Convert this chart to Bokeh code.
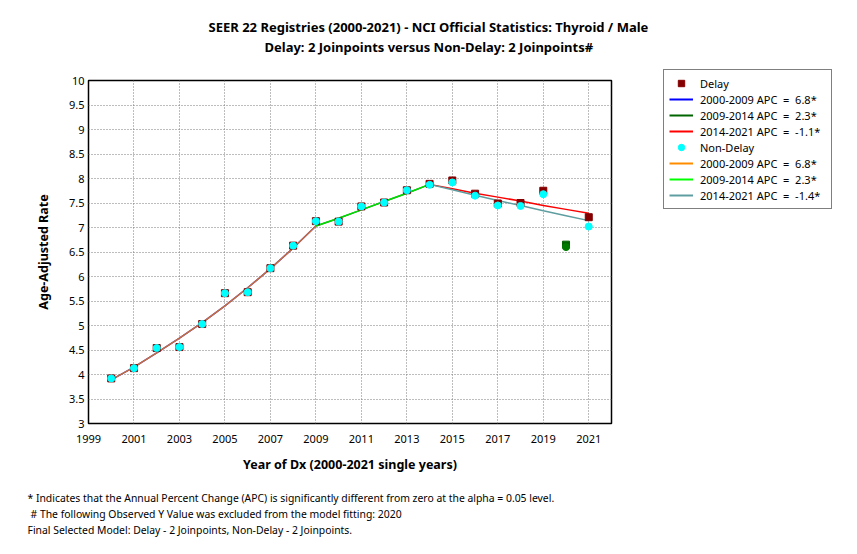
from bokeh.plotting import figure
from bokeh.layouts import row, column
from bokeh.models import Range1d, FixedTicker, Legend, LegendItem, Title
from bokeh.embed import file_html
from bokeh.resources import INLINE

# ---------------- data ----------------
years = list(range(2000, 2022))
delay_obs = [3.92, 4.13, 4.54, 4.56, 5.03, 5.66, 5.68, 6.17, 6.63, 7.13, 7.12,
             7.43, 7.51, 7.76, 7.89, 7.96, 7.69, 7.49, 7.50, 7.75, 6.65, 7.21]
nondelay_obs = [3.92, 4.13, 4.54, 4.56, 5.03, 5.66, 5.68, 6.17, 6.63, 7.13, 7.12,
                7.43, 7.51, 7.76, 7.87, 7.92, 7.65, 7.45, 7.44, 7.68, 6.60, 7.02]
excluded_years = [2020]
delay_fit = [3.89, 4.15, 4.44, 4.74, 5.06, 5.40, 5.77, 6.16, 6.58, 7.03, 7.19,
             7.36, 7.53, 7.70, 7.88, 7.79, 7.70, 7.62, 7.54, 7.45, 7.37, 7.29]
nondelay_fit = [3.89, 4.15, 4.44, 4.74, 5.06, 5.40, 5.77, 6.16, 6.58, 7.03, 7.19,
                7.36, 7.53, 7.70, 7.88, 7.77, 7.66, 7.55, 7.45, 7.34, 7.24, 7.14]
joinpoints = [2000, 2009, 2014, 2021]
delay_labels = ["2000-2009 APC  =  6.8*", "2009-2014 APC  =  2.3*", "2014-2021 APC  =  -1.1*"]
nondelay_labels = ["2000-2009 APC  =  6.8*", "2009-2014 APC  =  2.3*", "2014-2021 APC  =  -1.4*"]
delay_colors = ["#0000ff", "#006400", "#ff0000"]
nondelay_colors = ["#ff8c00", "#00ff00", "#5f9ea0"]
x_ticks = list(range(1999, 2022, 2))
y_ticks = [3, 3.5, 4, 4.5, 5, 5.5, 6, 6.5, 7, 7.5, 8, 8.5, 9, 9.5, 10]
y_tick_labels = ["3", "3.5", "4", "4.5", "5", "5.5", "6", "6.5", "7", "7.5",
                 "8", "8.5", "9", "9.5", "10"]
title_lines = ["SEER 22 Registries (2000-2021) - NCI Official Statistics: Thyroid / Male",
               "Delay: 2 Joinpoints  versus  Non-Delay: 2 Joinpoints#"]
footer_lines = ["* Indicates that the Annual Percent Change (APC) is significantly different from zero at the alpha = 0.05 level.",
                " # The following Observed Y Value was excluded from the model fitting: 2020",
                "Final Selected Model: Delay - 2 Joinpoints, Non-Delay - 2 Joinpoints."]

FONT = "Noto Sans"
DELAY_MARK = "#850000"
NONDELAY_MARK = "#00ffff"
EXCL_DELAY = "#006400"
EXCL_NONDELAY = "#007a00"

p = figure(width=655, height=538, output_backend="svg", toolbar_location=None,
           x_range=Range1d(1999, 2022), y_range=Range1d(3, 10),
           min_border_left=88, min_border_right=44, min_border_top=80,
           min_border_bottom=115, background_fill_color="white",
           border_fill_color="white")
p.outline_line_color = "black"
p.outline_line_width = 1.5

# grid
p.xgrid.ticker = FixedTicker(ticks=x_ticks)
p.ygrid.ticker = FixedTicker(ticks=y_ticks)
for g in (p.xgrid, p.ygrid):
    g.grid_line_color = "#7a7a7a"
    g.grid_line_dash = "1 2"
    g.grid_line_width = 1

# axes
p.xaxis.ticker = FixedTicker(ticks=x_ticks)
p.yaxis.ticker = FixedTicker(ticks=y_ticks)
p.yaxis.major_label_overrides = {t: l for t, l in zip(y_ticks, y_tick_labels)}
for ax in (p.xaxis, p.yaxis):
    ax.axis_line_color = None
    ax.major_tick_line_color = None
    ax.minor_tick_line_color = None
    ax.major_tick_out = 0
    ax.major_tick_in = 0
    ax.minor_tick_out = 0
    ax.major_label_text_font = FONT
    ax.major_label_text_font_size = "11px"
    ax.major_label_text_color = "black"
    ax.axis_label_text_font = FONT
    ax.axis_label_text_font_style = "bold"
    ax.axis_label_text_font_size = "12.5px"
    ax.axis_label_text_color = "black"
p.xaxis.axis_label = "Year of Dx (2000-2021 single years)"
p.yaxis.axis_label = "Age-Adjusted Rate"
p.xaxis.major_label_standoff = 11
p.yaxis.major_label_standoff = 4
p.xaxis.axis_label_standoff = 10
p.yaxis.axis_label_standoff = 14

# fitted lines
def seg(vals, a, b):
    i0, i1 = years.index(a), years.index(b)
    return years[i0:i1 + 1], vals[i0:i1 + 1]

for k in range(3):
    xs, ys = seg(delay_fit, joinpoints[k], joinpoints[k + 1])
    p.line(xs, ys, line_color=delay_colors[k], line_width=1.5)
for k in range(3):
    xs, ys = seg(nondelay_fit, joinpoints[k], joinpoints[k + 1])
    p.line(xs, ys, line_color=nondelay_colors[k], line_width=1.5,
           line_alpha=0.78 if k < 2 else 1.0)

# observed points
inc = [i for i, y in enumerate(years) if y not in excluded_years]
exc = [i for i, y in enumerate(years) if y in excluded_years]
p.scatter([years[i] for i in inc], [delay_obs[i] for i in inc], marker="square",
          size=7, fill_color=DELAY_MARK, line_color=DELAY_MARK)
p.scatter([years[i] for i in exc], [delay_obs[i] for i in exc], marker="square",
          size=7, fill_color=EXCL_DELAY, line_color=EXCL_DELAY)
p.scatter([years[i] for i in inc], [nondelay_obs[i] for i in inc], marker="circle",
          size=7, fill_color=NONDELAY_MARK, line_color=NONDELAY_MARK)
p.scatter([years[i] for i in exc], [nondelay_obs[i] for i in exc], marker="circle",
          size=7, fill_color=EXCL_NONDELAY, line_color=EXCL_NONDELAY)

# titles (spacer first, then lines stacked upward)
p.add_layout(Title(text=" ", text_font=FONT, text_font_size="12px", standoff=6), "above")
p.add_layout(Title(text=title_lines[1], align="left", offset=176,
                   text_font=FONT, text_font_style="bold",
                   text_font_size="13px", text_color="black", standoff=0), "above")
p.add_layout(Title(text=title_lines[0], align="left", offset=120,
                   text_font=FONT, text_font_style="bold",
                   text_font_size="13px", text_color="black", standoff=0), "above")

# footer
p.add_layout(Title(text=" ", text_font=FONT, text_font_size="6px", standoff=3), "below")
for i, line in enumerate(footer_lines):
    p.add_layout(Title(text=line, align="left", offset=-58 if i == 1 else -61,
                       text_font=FONT, text_font_style="normal",
                       text_font_size="10.4px", text_color="black", standoff=0), "below")

# ---------------- legend panel ----------------
lg = figure(width=186, height=538, output_backend="svg", toolbar_location=None,
            x_range=Range1d(1999, 2022), y_range=Range1d(3, 10),
            x_axis_location=None, y_axis_location=None,
            min_border=0, min_border_left=0, min_border_right=0,
            min_border_top=0, min_border_bottom=0,
            background_fill_color="white", border_fill_color="white")
lg.outline_line_color = None
lg.grid.visible = False

items = []
r = lg.scatter(years, delay_obs, marker="square", size=6,
               fill_color=DELAY_MARK, line_color=DELAY_MARK, visible=False)
items.append(LegendItem(label="Delay", renderers=[r]))
for k, (lab, col) in enumerate(zip(delay_labels, delay_colors)):
    xs, ys = seg(delay_fit, joinpoints[k], joinpoints[k + 1])
    r = lg.line(xs, ys, line_color=col, line_width=2, visible=False)
    items.append(LegendItem(label=lab, renderers=[r]))
r = lg.scatter(years, nondelay_obs, marker="circle", size=6,
               fill_color=NONDELAY_MARK, line_color=NONDELAY_MARK, visible=False)
items.append(LegendItem(label="Non-Delay", renderers=[r]))
for k, (lab, col) in enumerate(zip(nondelay_labels, nondelay_colors)):
    xs, ys = seg(nondelay_fit, joinpoints[k], joinpoints[k + 1])
    r = lg.line(xs, ys, line_color=col, line_width=2, visible=False)
    items.append(LegendItem(label=lab, renderers=[r]))

legend = Legend(items=items, location=(8, 329), orientation="vertical",
                border_line_color="black", border_line_width=1.5,
                background_fill_color="white", background_fill_alpha=1,
                label_text_font=FONT, label_text_font_size="11px",
                label_text_color="black", glyph_width=24, glyph_height=16,
                label_height=16, label_width=126, label_standoff=7, spacing=0,
                padding=5, margin=0, inactive_fill_alpha=0.0)
lg.add_layout(legend, "center")

layout = row(column(p), column(lg), spacing=0)
open("out.html", "w").write(file_html(layout, INLINE))
